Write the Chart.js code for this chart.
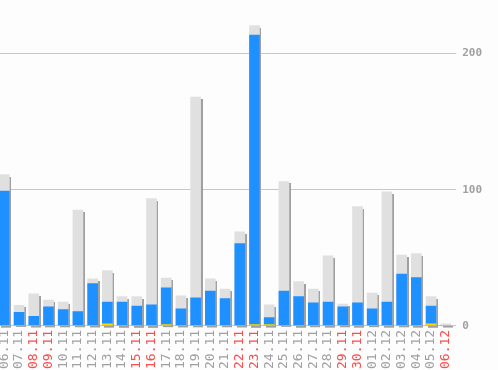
<!DOCTYPE html>
<html>
<head>
<meta charset="utf-8">
<script src="https://cdn.jsdelivr.net/npm/chart.js@4/dist/chart.umd.min.js"></script>
<style>
  html, body { margin: 0; padding: 0; background: #fdfdfd; overflow: hidden; }
  #wrap { position: absolute; left: -3px; top: 0; width: 501px; height: 370px; }
</style>
</head>
<body>
<div id="wrap"><canvas id="c"></canvas></div>
<script>
const categories = ["06.11","07.11","08.11","09.11","10.11","11.11","12.11","13.11","14.11","15.11","16.11","17.11","18.11","19.11","20.11","21.11","22.11","23.11","24.11","25.11","26.11","27.11","28.11","29.11","30.11","01.12","02.12","03.12","04.12","05.12","06.12"];
const weekend = [false,false,true,true,false,false,false,false,false,true,true,false,false,false,false,false,true,true,false,false,false,false,false,true,true,false,false,false,false,false,true];
const totalValues = [111,15,23.5,19,17.5,85,34.5,40.5,21.5,21.5,93.5,35,22,168,34.5,27,69,220.5,15.5,106,32.5,27,51.5,16,87.5,24,98.5,52,53,21.5,1.5];
const blueValues  = [99,10,7,14,12,10.5,31,17.5,17.5,14.5,15.5,28,12.5,20.5,25.5,20,60.5,213.5,6,25.5,21.5,17,17.5,14,17,12.5,17.5,38,35.5,14.5,0];
const yellowValues = [0,0,0,0,0,0,0,1.5,0,0,0,1,0,0,0,0,0,1,1,0,0,0,0,0,0,0,0,0,0,1.5,0];
const yTicks = [0,100,200];

const shadowPlugin = {
  id: 'shadow',
  beforeDatasetsDraw(chart) {
    const meta = chart.getDatasetMeta(0);
    const ctx = chart.ctx;
    ctx.save();
    ctx.fillStyle = '#a0a0a0';
    meta.data.forEach(el => {
      const w = el.width;
      const h = el.base - el.y;
      if (h <= 0) return;
      ctx.fillRect(Math.round(el.x - w / 2) + 2, Math.round(el.y) + 2, w, h);
    });
    ctx.restore();
  }
};

new Chart(document.getElementById('c'), {
  type: 'bar',
  data: {
    labels: categories,
    datasets: [
      { data: totalValues, backgroundColor: '#e0e0e0', grouped: false, barThickness: 10, order: 3 },
      { data: blueValues, backgroundColor: '#1e90ff', grouped: false, barThickness: 10, order: 2 },
      { data: yellowValues, backgroundColor: '#ffd700', grouped: false, barThickness: 10, order: 1 }
    ]
  },
  options: {
    responsive: true,
    maintainAspectRatio: false,
    animation: false,
    layout: { padding: { top: 5, right: 10, bottom: -3, left: 0 } },
    plugins: { legend: { display: false }, tooltip: { enabled: false } },
    scales: {
      x: {
        grid: { display: false, drawTicks: false },
        border: { display: false },
        ticks: {
          minRotation: 90, maxRotation: 90, autoSkip: false, padding: 4,
          font: { family: 'DejaVu Sans Mono', size: 13 },
          color: (c) => weekend[c.index] ? '#ff4c4c' : '#a0a0a0'
        }
      },
      y: {
        position: 'right',
        min: 0, max: 230,
        afterBuildTicks: (axis) => { axis.ticks = yTicks.map(v => ({ value: v })); },
        grid: { color: '#c8c8c8', lineWidth: 1, tickLength: 3 },
        border: { display: false },
        ticks: {
          padding: 6,
          font: { family: 'DejaVu Sans Mono', size: 11, weight: 'bold' },
          color: '#a0a0a0'
        }
      }
    }
  },
  plugins: [shadowPlugin]
});
</script>
</body>
</html>
